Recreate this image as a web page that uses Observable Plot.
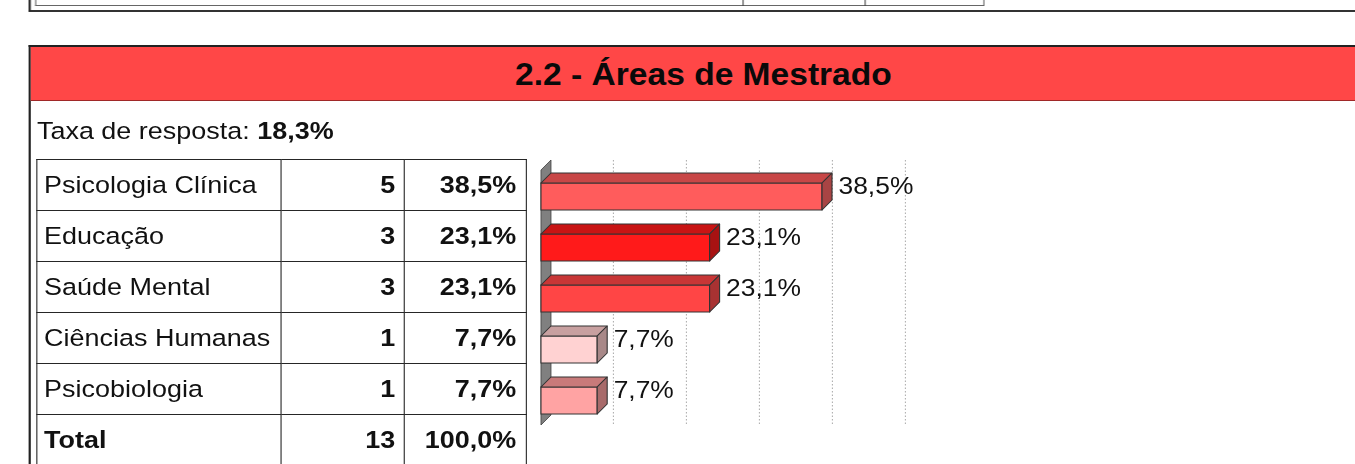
<!DOCTYPE html>
<html>
<head>
<meta charset="utf-8">
<script src="https://cdn.jsdelivr.net/npm/d3@7"></script>
<script src="https://cdn.jsdelivr.net/npm/@observablehq/plot@0.6"></script>
<style>
html,body{margin:0;padding:0;background:#fff;overflow:hidden;width:1355px;height:464px;}
#stage{position:absolute;left:0;top:0;width:1232px;height:464px;transform:scaleX(1.1);transform-origin:0 0;font-family:"Liberation Sans",Arial,sans-serif;color:#111;}
.abs{position:absolute;box-sizing:border-box;}
#prevOuter{left:25.5px;top:-20px;width:1300px;height:32px;border-left:2px solid #222;border-bottom:2px solid #333;}
#prevInner{left:31.8px;top:-20px;width:863.7px;height:26px;border:1.5px solid #666;border-top:none;}
.prevV{top:-20px;height:26px;width:0;border-left:1.5px solid #444;}
#section{left:25.5px;top:45px;width:1300px;height:500px;border-left:2px solid #222;border-top:2px solid #222;}
#header{left:27.5px;top:47px;width:1300px;height:54px;background:#ff4747;border-bottom:1.5px solid #a02828;}
#title{left:25.5px;top:47px;width:1228px;height:54px;line-height:54px;text-align:center;font-weight:bold;font-size:30.5px;color:#0a0a0a;}
#taxa{left:33.6px;top:118.5px;font-size:24.5px;line-height:24px;white-space:nowrap;}
#tbl{position:absolute;left:32.7px;top:159.25px;width:445px;border-collapse:collapse;font-size:24.5px;table-layout:fixed;}
#tbl td{border:1.8px solid #262626;padding:0;line-height:24px;white-space:nowrap;overflow:hidden;}
#tbl tr{height:51px;}
#tbl td.c0{padding-left:6.4px;text-align:left;}
#tbl td.c1{padding-right:8px;text-align:right;font-weight:bold;}
#tbl td.c2{padding-right:8.4px;text-align:right;font-weight:bold;}
#tbl tr.total td{font-weight:bold;}
#chart{position:absolute;left:470px;top:150px;width:400px;height:300px;}
</style>
</head>
<body>
<div id="stage">
  <div class="abs" id="prevOuter"></div>
  <div class="abs" id="prevInner"></div>
  <div class="abs prevV" style="left:674.5px"></div>
  <div class="abs prevV" style="left:785.5px"></div>
  <div class="abs" id="section"></div>
  <div class="abs" id="header"></div>
  <div class="abs" id="title"></div>
  <div class="abs" id="taxa"></div>
  <table id="tbl"><colgroup><col style="width:222.8px"><col style="width:111.8px"><col style="width:110.4px"></colgroup><tbody></tbody></table>
  <div id="chart"></div>
</div>
<script>
// ---- data ----
const sectionTitle = "2.2 - Áreas de Mestrado";
const responseLabel = "Taxa de resposta:";
const responseRate = 18.3;
const areas = ["Psicologia Clínica", "Educação", "Saúde Mental", "Ciências Humanas", "Psicobiologia"];
const counts = [5, 3, 3, 1, 1];
const percents = [38.5, 23.1, 23.1, 7.7, 7.7];
const totalLabel = "Total";
const totalCount = 13;
const totalPercent = 100.0;
const gridTicks = [10, 20, 30, 40, 50];

// ---- styles ----
const frontColors = ["#ff5c5c", "#ff1a1a", "#ff4545", "#ffd2d2", "#ffa3a3"];
const topColors   = ["#c84646", "#c81414", "#c83636", "#c8a0a0", "#c87a7a"];
const sideColors  = ["#a84444", "#a81212", "#a83232", "#a88888", "#a86a6a"];

const fmt = v => v.toFixed(1).replace(".", ",") + "%";

document.getElementById("title").textContent = sectionTitle;
document.getElementById("taxa").innerHTML = responseLabel + " <b>" + fmt(responseRate) + "</b>";

const tbody = d3.select("#tbl tbody");
const tableRows = areas.map((a, i) => [a, counts[i], fmt(percents[i])]);
tableRows.push([totalLabel, totalCount, fmt(totalPercent)]);
tableRows.forEach((r, i) => {
  const tr = tbody.append("tr").attr("class", i === tableRows.length - 1 ? "total" : null);
  r.forEach((c, j) => tr.append("td").attr("class", "c" + j).text(c));
});

// ---- chart ----
const rows = areas.map((a, i) => ({area: a, count: counts[i], pct: percents[i], front: frontColors[i], top: topColors[i], side: sideColors[i]}));
const DX = 10 / 1.1, DY = 10;
const FRONT_TOP = 23, FRONT_BOTTOM = 1;

function wallMark(index, scales) {
  const x = scales.x, y = scales.y;
  const bw = y.bandwidth ? y.bandwidth() : 51;
  const x0 = x(0);
  const t = y(areas[0]), b = y(areas[areas.length - 1]) + bw;
  const g = d3.create("svg:g");
  g.append("path")
    .attr("d", `M${x0},${t + DY}L${x0 + DX},${t}L${x0 + DX},${b}L${x0},${b + DY}Z`)
    .attr("fill", "#808080").attr("stroke", "#444").attr("stroke-width", 0.8);
  return g.node();
}

function facesMark(index, scales) {
  const x = scales.x, y = scales.y;
  const bw = y.bandwidth ? y.bandwidth() : 51;
  const g = d3.create("svg:g");
  rows.forEach(r => {
    const x0 = x(0), x1 = x(r.pct);
    const t = y(r.area) + FRONT_TOP, b = y(r.area) + bw - FRONT_BOTTOM;
    g.append("path")
      .attr("d", `M${x0},${t}L${x0 + DX},${t - DY}L${x1 + DX},${t - DY}L${x1},${t}Z`)
      .attr("fill", r.top).attr("stroke", "#333").attr("stroke-width", 1).attr("stroke-linejoin", "round");
    g.append("path")
      .attr("d", `M${x1},${t}L${x1 + DX},${t - DY}L${x1 + DX},${b - DY}L${x1},${b}Z`)
      .attr("fill", r.side).attr("stroke", "#333").attr("stroke-width", 1).attr("stroke-linejoin", "round");
  });
  return g.node();
}

const chart = Plot.plot({
  width: 400,
  height: 300,
  marginTop: 10,
  marginBottom: 25,
  marginLeft: 0,
  marginRight: 0,
  style: {fontFamily: '"Liberation Sans", Arial, sans-serif', fontSize: "24px", background: "transparent", overflow: "visible", maxWidth: "none"},
  x: {domain: [0, 50], range: [21.8, 21.8 + 50 * 6.636], axis: null},
  y: {domain: areas, range: [10, 265], padding: 0, axis: null},
  color: {type: "identity"},
  marks: [
    Plot.ruleX(gridTicks, {stroke: "#b0b0b0", strokeWidth: 1, strokeDasharray: "1.5,2", dx: -1}),
    wallMark,
    Plot.barX(rows, {x: "pct", y: "area", fill: "front", stroke: "#333", strokeWidth: 1, insetTop: FRONT_TOP, insetBottom: FRONT_BOTTOM}),
    facesMark,
    Plot.text(rows, {x: "pct", y: "area", text: d => fmt(d.pct), textAnchor: "start", dx: 14.5, dy: 0.5, fontSize: 24, fill: "#111"})
  ]
});
document.getElementById("chart").appendChild(chart);
</script>
</body>
</html>
